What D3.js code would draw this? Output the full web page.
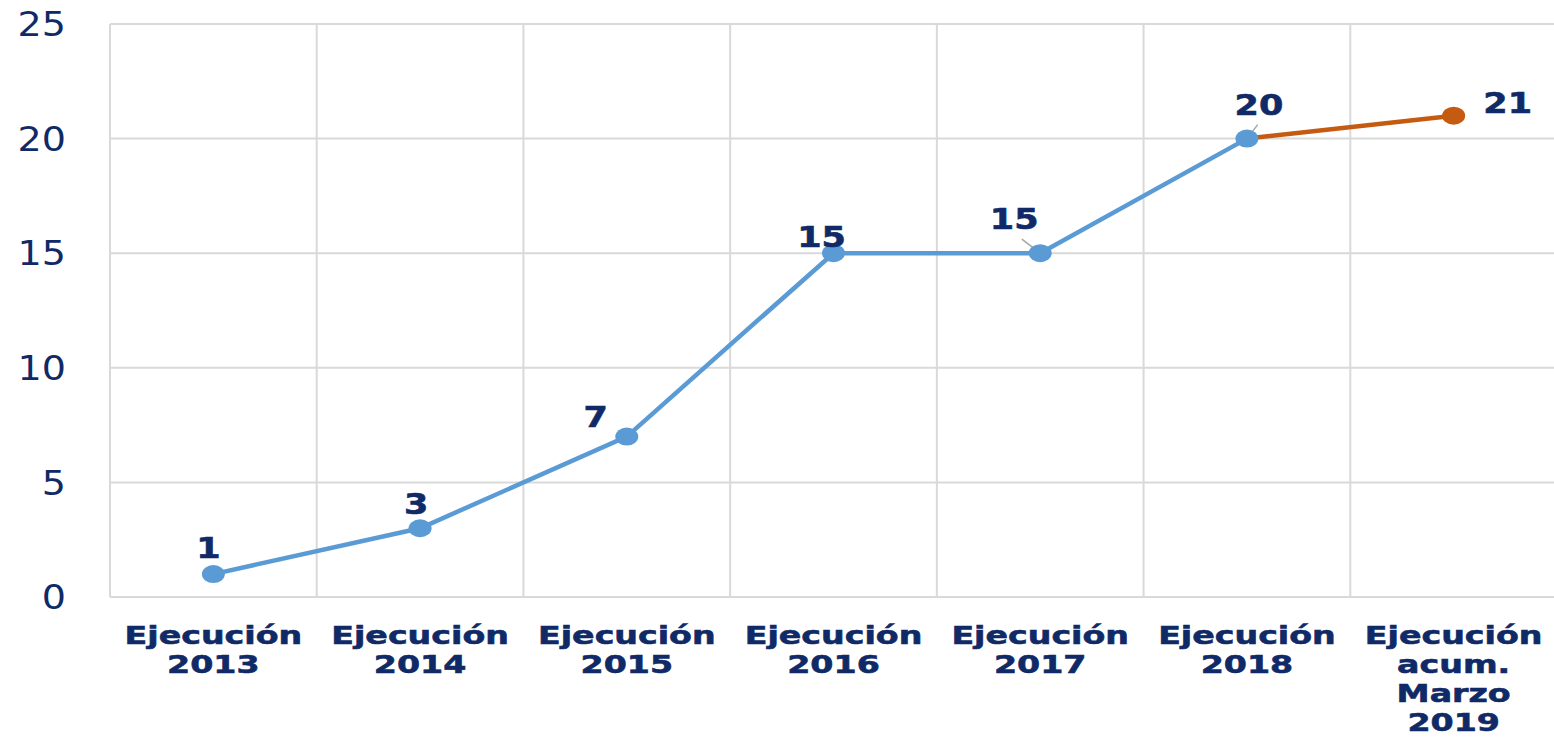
<!DOCTYPE html>
<html>
<head>
<meta charset="utf-8">
<script src="https://cdn.jsdelivr.net/npm/d3@7"></script>
<style>
  body { margin: 0; background: #fff; }
  text { font-family: "DejaVu Sans", Verdana, sans-serif; }
</style>
</head>
<body>
<div id="chart"></div>
<script>
// data
const categories = [
  ["Ejecución", "2013"],
  ["Ejecución", "2014"],
  ["Ejecución", "2015"],
  ["Ejecución", "2016"],
  ["Ejecución", "2017"],
  ["Ejecución", "2018"],
  ["Ejecución", "acum.", "Marzo", "2019"],
];
const values = [1, 3, 7, 15, 15, 20, 21];
const yTicks = [0, 5, 10, 15, 20, 25];

// label placement relative to each point (layout only)
const labelOffsets = [
  [-5, -16], [-4, -14], [-31, -10], [-12, -6], [-26, -24], [12, -24], [54, -3],
];

const W = 1554, H = 739;
const margin = { top: 24, right: -3, bottom: 142, left: 110 };
const width = W - margin.left - margin.right;
const height = H - margin.top - margin.bottom;

const navy = "#0f2a66";
const blue = "#5b9bd5";
const orange = "#c55a11";

const svg = d3.select("#chart").append("svg")
  .attr("width", W).attr("height", H)
  .append("g")
  .attr("transform", `translate(${margin.left},${margin.top})`);

const x = d3.scaleBand().domain(d3.range(categories.length)).range([0, width]);
const y = d3.scaleLinear().domain([0, 25]).range([height, 0]);

// horizontal grid
svg.append("g").selectAll("line").data(yTicks).join("line")
  .attr("x1", 0).attr("x2", width)
  .attr("y1", d => y(d)).attr("y2", d => y(d))
  .attr("stroke", "#d9d9d9").attr("stroke-width", 2);

// vertical grid (category boundaries)
svg.append("g").selectAll("line").data(d3.range(categories.length)).join("line")
  .attr("x1", d => x(d)).attr("x2", d => x(d))
  .attr("y1", 0).attr("y2", height)
  .attr("stroke", "#d9d9d9").attr("stroke-width", 2);

// y axis labels
svg.append("g").selectAll("text").data(yTicks).join("text")
  .attr("text-anchor", "end")
  .attr("font-size", 34)
  .attr("fill", navy)
  .attr("transform", d => `translate(-44,${y(d)}) scale(1.12,1)`)
  .attr("dy", "0.36em")
  .text(d => d);

// x axis labels
const xl = svg.append("g").selectAll("text").data(categories).join("text")
  .attr("text-anchor", "middle")
  .attr("font-size", 25)
  .attr("font-weight", "bold")
  .attr("fill", navy)
  .attr("stroke", navy).attr("stroke-width", 0.6)
  .attr("transform", (d, i) => `translate(${x(i) + x.bandwidth() / 2},${height + 47}) scale(1.33,1)`);
xl.selectAll("tspan").data(d => d).join("tspan")
  .attr("x", 0).attr("dy", (d, i) => i === 0 ? 0 : 29)
  .text(d => d);

const cx = i => x(i) + x.bandwidth() / 2;
const line = d3.line().x(d => cx(d.i)).y(d => y(d.v));
const pts = values.map((v, i) => ({ v, i }));

svg.append("path").datum(pts.slice(0, 6))
  .attr("d", line).attr("fill", "none")
  .attr("stroke", blue).attr("stroke-width", 4.5);
svg.append("path").datum(pts.slice(5))
  .attr("d", line).attr("fill", "none")
  .attr("stroke", orange).attr("stroke-width", 4.5);

// small leader lines
[0, 4, 5].forEach(i => {
  const [dx, dy] = labelOffsets[i];
  svg.append("line")
    .attr("x1", cx(i)).attr("y1", y(values[i]))
    .attr("x2", cx(i) + dx * 0.9 + (i === 4 ? 5 : 0)).attr("y2", y(values[i]) + dy + (i === 0 ? 8 : 10))
    .attr("stroke", "#a6a6a6").attr("stroke-width", 1.5);
});

svg.append("g").selectAll("ellipse").data(pts).join("ellipse")
  .attr("cx", d => cx(d.i)).attr("cy", d => y(d.v))
  .attr("rx", 11.5).attr("ry", 9)
  .attr("fill", d => d.i === 6 ? orange : blue);

// data labels
svg.append("g").selectAll("text").data(pts).join("text")
  .attr("text-anchor", "middle")
  .attr("font-size", 28)
  .attr("font-weight", "bold")
  .attr("fill", navy)
  .attr("stroke", navy).attr("stroke-width", 0.6)
  .attr("transform", d => `translate(${cx(d.i) + labelOffsets[d.i][0]},${y(d.v) + labelOffsets[d.i][1]}) scale(1.25,1)`)
  .text(d => d.v);
</script>
</body>
</html>
